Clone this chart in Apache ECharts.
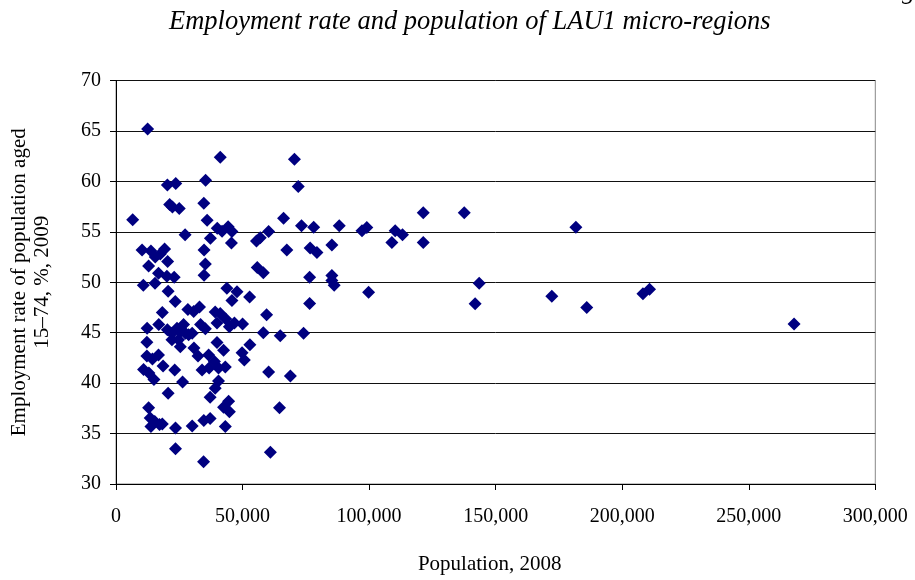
<!DOCTYPE html>
<html>
<head>
<meta charset="utf-8">
<script src="https://cdn.jsdelivr.net/npm/echarts@6/dist/echarts.min.js"></script>
<style>
html,body{margin:0;padding:0;background:#fff;}
#chart{width:915px;height:580px;}
</style>
</head>
<body>
<div id="chart"></div>
<script>
var titleText = 'Employment rate and population of LAU1 micro-regions';
var xAxisName = 'Population, 2008';
var yAxisName = 'Employment rate of population aged\n15\u201374, %, 2009';

var population = [
12500, 41200, 70500, 20300, 23600, 35400, 72000, 21200, 22300, 25000,
34700, 6600, 36000, 66200, 73300, 78100, 88200, 97200, 99100, 110300,
113200, 121400, 137600, 181700, 40000, 41900, 44300, 45800, 60300, 27300,
37300, 45600, 55500, 57000, 67500, 76700, 79400, 85300, 109000, 121400,
10300, 13800, 19200, 15500, 20400, 12900, 17500, 34800, 35300, 55800,
58200, 16800, 20100, 23000, 34800, 76500, 85300, 85300, 86200, 10800,
15400, 20600, 43800, 47800, 45800, 52800, 23400, 99800, 143500, 141900,
172200, 186000, 208200, 210800, 18300, 28400, 30700, 33000, 39200, 41200,
39900, 43400, 44800, 46800, 50000, 59500, 76500, 267900, 12300, 16900,
20300, 22100, 24100, 26700, 25400, 27400, 24700, 22100, 25400, 28700,
30100, 33400, 35300, 58200, 64900, 74100, 12200, 39900, 42500, 52900,
30800, 32400, 49800, 50700, 36600, 38900, 34000, 36800, 40500, 43200,
12200, 14400, 16800, 18600, 10900, 13000, 15000, 23200, 26300, 40500,
60300, 68900, 39200, 37200, 20600, 12900, 13500, 15300, 17200, 18300,
13800, 23500, 30100, 34700, 37200, 44500, 42500, 44800, 43200, 64600,
61000, 23500, 34600
];

var employmentRate = [
65.2, 62.4, 62.2, 59.65, 59.8, 60.1, 59.5, 57.7, 57.45, 57.3,
57.84, 56.2, 56.15, 56.35, 55.6, 55.46, 55.6, 55.1, 55.42, 55.1,
54.7, 56.9, 56.9, 55.46, 55.36, 55.05, 55.5, 55.02, 55.02, 54.7,
54.35, 53.9, 54.1, 54.4, 53.2, 53.4, 52.95, 53.7, 53.95, 53.95,
53.2, 53.1, 53.3, 52.5, 52.05, 51.6, 52.8, 53.2, 51.8, 51.45,
50.95, 50.9, 50.6, 50.5, 50.7, 50.5, 50.66, 50.17, 49.7, 49.7,
49.9, 49.1, 49.4, 49.05, 48.2, 48.55, 48.1, 49.0, 49.9, 47.86,
48.6, 47.5, 48.85, 49.3, 47.0, 47.3, 47.1, 47.55, 47.05, 46.9,
45.95, 46.35, 45.6, 45.95, 45.85, 46.77, 47.9, 45.85, 45.45, 45.8,
45.3, 44.95, 45.45, 45.8, 45.1, 44.95, 44.3, 44.3, 43.6, 44.8,
44.95, 45.8, 45.4, 45.0, 44.7, 44.95, 44.05, 44.03, 43.25, 43.8,
43.47, 42.7, 43.0, 42.3, 42.8, 42.15, 41.3, 41.5, 41.5, 41.6,
42.7, 42.4, 42.8, 41.7, 41.35, 41.0, 40.35, 41.3, 40.1, 40.2,
41.1, 40.7, 39.5, 38.6, 39.0, 37.55, 36.55, 36.2, 35.9, 35.95,
35.7, 35.55, 35.75, 36.3, 36.5, 38.2, 37.6, 37.15, 35.7, 37.55,
33.15, 33.5, 32.2
];

var xMin = 0, xMax = 300000, xStep = 50000;
var yMin = 30, yMax = 70, yStep = 5;

var points = population.map(function (p, i) { return [p, employmentRate[i]]; });

var font = '"Liberation Serif", "Times New Roman", serif';
var chart = echarts.init(document.getElementById('chart'), null, {renderer: 'canvas'});
chart.setOption({
  animation: false,
  backgroundColor: '#ffffff',
  title: {
    text: titleText,
    left: 164,
    top: 4,
    textStyle: {fontFamily: font, fontStyle: 'italic', fontWeight: 'normal', fontSize: 26.5, color: '#000'}
  },
  graphic: [{
    type: 'text', left: 902, top: -21,
    style: {text: 'g', fontFamily: font, fontStyle: 'italic', fontSize: 26, fill: '#000'}
  }],
  grid: {left: 115.7, right: 39.7, top: 80.5, bottom: 95.7, show: true, borderColor: '#888', borderWidth: 1},
  xAxis: {
    type: 'value', min: xMin, max: xMax, interval: xStep,
    name: xAxisName, nameLocation: 'middle', nameGap: 70,
    nameTextStyle: {fontFamily: font, fontSize: 21, color: '#000', padding: [0, 12, 0, 0]},
    axisLine: {show: true, lineStyle: {color: '#000', width: 1}},
    axisTick: {show: true, length: 6, lineStyle: {color: '#000'}},
    splitLine: {show: false},
    axisLabel: {fontFamily: font, fontSize: 20, color: '#000', margin: 23,
      formatter: function (v) { return v.toLocaleString('en-US'); }}
  },
  yAxis: {
    type: 'value', min: yMin, max: yMax, interval: yStep,
    name: yAxisName, nameLocation: 'middle', nameGap: 62, nameRotate: 90,
    nameTextStyle: {fontFamily: font, fontSize: 21, color: '#000', lineHeight: 23},
    axisLine: {show: true, lineStyle: {color: '#000', width: 1}},
    axisTick: {show: true, length: 6, lineStyle: {color: '#000'}},
    splitLine: {show: true, lineStyle: {color: '#111', width: 1}},
    axisLabel: {fontFamily: font, fontSize: 20, color: '#000', margin: 15}
  },
  series: [{
    type: 'scatter',
    data: points,
    symbol: 'diamond',
    symbolSize: 13,
    itemStyle: {color: '#000080', opacity: 1}
  }]
});
</script>
</body>
</html>
